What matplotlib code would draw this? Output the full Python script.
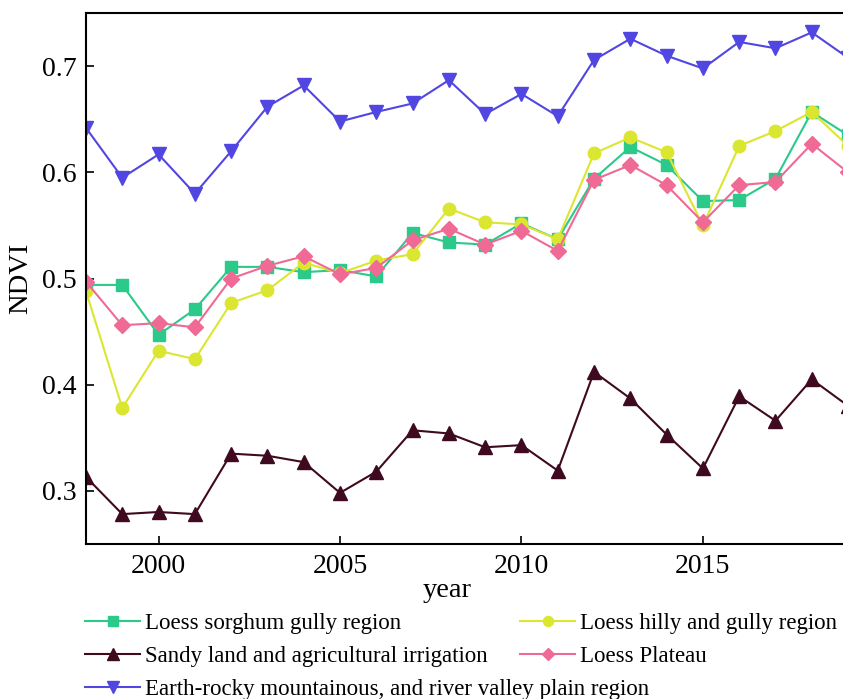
import numpy as np
import matplotlib
matplotlib.use('Agg')
from matplotlib import pyplot as plt

plt.rcParams['font.family'] = ['Liberation Serif', 'DejaVu Serif']

years = list(range(1998, 2020))

sorghum = [0.494, 0.494, 0.447, 0.471, 0.511, 0.511, 0.506, 0.508, 0.502, 0.543, 0.534,
           0.532, 0.552, 0.537, 0.594, 0.624, 0.607, 0.573, 0.574, 0.594, 0.657, 0.635]
hilly = [0.488, 0.378, 0.432, 0.424, 0.477, 0.489, 0.515, 0.505, 0.517, 0.523, 0.566,
         0.553, 0.551, 0.537, 0.618, 0.633, 0.619, 0.550, 0.625, 0.639, 0.657, 0.625]
sandy = [0.313, 0.278, 0.280, 0.278, 0.335, 0.333, 0.327, 0.298, 0.318, 0.357, 0.354,
         0.341, 0.343, 0.319, 0.412, 0.387, 0.353, 0.321, 0.389, 0.366, 0.405, 0.380]
plateau = [0.497, 0.456, 0.458, 0.454, 0.500, 0.512, 0.521, 0.504, 0.510, 0.536, 0.547,
           0.532, 0.545, 0.526, 0.593, 0.607, 0.588, 0.553, 0.588, 0.591, 0.627, 0.600]
rocky = [0.642, 0.595, 0.617, 0.580, 0.620, 0.662, 0.682, 0.648, 0.657, 0.665, 0.687,
         0.655, 0.674, 0.653, 0.706, 0.726, 0.710, 0.698, 0.723, 0.717, 0.732, 0.708]

fig = plt.figure(figsize=(8.43, 6.99), dpi=100)
ax = fig.add_axes([0.102, 0.222, 0.904, 0.759])

kw = dict(lw=1.5, ms=9)
l1, = ax.plot(years, sorghum, marker='s', color='#2bc98a', label='Loess sorghum gully region', **kw)
l2, = ax.plot(years, hilly, marker='o', color='#dbe631', label='Loess hilly and gully region', **kw)
l3, = ax.plot(years, sandy, marker='^', color='#3f0a20', ms=10, lw=1.5,
              label='Sandy land and agricultural irrigation')
l4, = ax.plot(years, plateau, marker='D', color='#ef6a95', ms=8, lw=1.5, label='Loess Plateau')
l5, = ax.plot(years, rocky, marker='v', color='#5246e2', ms=10, lw=1.5,
              label='Earth-rocky mountainous, and river valley plain region')

ax.set_xlim(1998, 2019)
ax.set_ylim(0.25, 0.75)
ax.set_xticks([2000, 2005, 2010, 2015])
ax.set_yticks([0.3, 0.4, 0.5, 0.6, 0.7])
ax.tick_params(direction='in', length=6, width=1.2, labelsize=20, pad=7)
for s in ax.spines.values():
    s.set_linewidth(1.5)

ax.set_xlabel('year', fontsize=20.5)
ax.xaxis.set_label_coords(0.474, -0.065)
ax.set_ylabel('NDVI', fontsize=20.5, labelpad=6)

# legend in two pieces so the long third entry can run under the second column
lkw = dict(frameon=False, fontsize=16.5, loc='upper left', handlelength=2.4,
           handletextpad=0.2, labelspacing=0.52, borderaxespad=0, borderpad=0,
           markerscale=0.8)
col1 = [l1, l3, l5]
col2 = [l2, l4]
fig.legend(col1, [l.get_label() for l in col1], bbox_to_anchor=(0.101, 0.123), **lkw)
fig.legend(col2, [l.get_label() for l in col2], bbox_to_anchor=(0.617, 0.123), **lkw)

fig.savefig('out.png', dpi=100)
